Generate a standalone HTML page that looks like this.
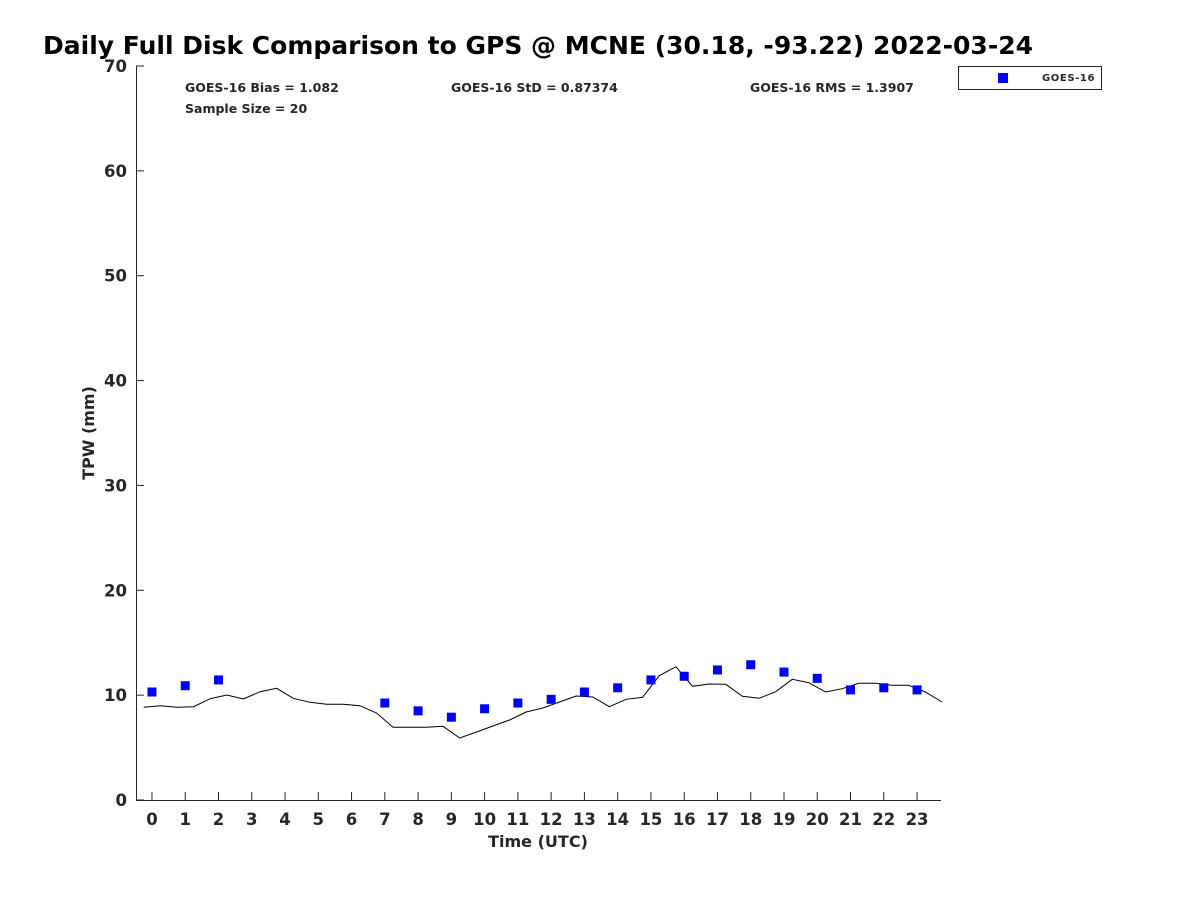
<!DOCTYPE html>
<html><head><meta charset="utf-8"><style>
body{margin:0;background:#fff;}
svg text{font-family:"DejaVu Sans","Liberation Sans",sans-serif;font-weight:bold;fill:#262626;}
</style></head><body>
<svg id="chart" width="1200" height="900" xmlns="http://www.w3.org/2000/svg">
<rect width="1200" height="900" fill="#fff"/>
<text x="43" y="54" font-size="25" textLength="990" lengthAdjust="spacingAndGlyphs" style="fill:#000">Daily Full Disk Comparison to GPS @ MCNE (30.18, -93.22) 2022-03-24</text>
<g id="axes"></g>
<g id="marks"></g>
<text x="185" y="92" font-size="12.5">GOES-16 Bias = 1.082</text>
<text x="185" y="113" font-size="12.5">Sample Size = 20</text>
<text x="451" y="92" font-size="12.5">GOES-16 StD = 0.87374</text>
<text x="750" y="92" font-size="12.5">GOES-16 RMS = 1.3907</text>
<g>
<rect x="958.5" y="66.5" width="143" height="23" fill="#fff" stroke="#262626" stroke-width="1"/>
<rect x="998" y="73" width="10" height="10" fill="#0000ff"/>
<text x="1042" y="81" font-size="10" letter-spacing="0.6">GOES-16</text>
</g>
<text x="538" y="847" font-size="16" text-anchor="middle">Time (UTC)</text>
<text transform="translate(94,433) rotate(-90)" font-size="16" text-anchor="middle">TPW (mm)</text>
</svg>
<script>
const gpsTimes = [];
for (let i = 0; i < 49; i++) gpsTimes.push(-0.25 + 0.5 * i);
const gpsValues = [8.84,8.99,8.84,8.90,9.66,10.01,9.63,10.33,10.65,9.70,9.32,9.13,9.13,8.99,8.30,6.93,6.93,6.93,7.03,5.91,6.48,7.06,7.63,8.39,8.77,9.35,9.92,9.82,8.90,9.60,9.79,11.85,12.71,10.84,11.06,11.03,9.89,9.70,10.33,11.51,11.19,10.30,10.61,11.13,11.13,10.94,10.94,10.30,9.35];
const goesHours = [0,1,2,7,8,9,10,11,12,13,14,15,16,17,18,19,20,21,22,23];
const goesValues = [10.3,10.9,11.45,9.25,8.5,7.9,8.7,9.25,9.6,10.3,10.7,11.45,11.8,12.4,12.9,12.2,11.6,10.5,10.7,10.5];
const xTicks = [0,1,2,3,4,5,6,7,8,9,10,11,12,13,14,15,16,17,18,19,20,21,22,23];
const yTicks = [0,10,20,30,40,50,60,70];

const NS = "http://www.w3.org/2000/svg";
const X0 = 136, X1 = 941, Y0 = 800, Y1 = 66;
const xMin = -0.48, xMax = 23.72, yMin = 0, yMax = 70;
const sx = v => X0 + (v - xMin) / (xMax - xMin) * (X1 - X0);
const sy = v => Y0 - (v - yMin) / (yMax - yMin) * (Y0 - Y1);
function mk(tag, attrs, parent) {
  const e = document.createElementNS(NS, tag);
  for (const k in attrs) e.setAttribute(k, attrs[k]);
  parent.appendChild(e);
  return e;
}
const axes = document.getElementById('axes');
const marks = document.getElementById('marks');
let e = mk('path', {d:`M${X0+0.5},${Y1} V${Y0+0.5} H${X1}`, fill:'none', stroke:'#262626', 'stroke-width':1}, axes);


xTicks.forEach(t => {
  const x = sx(t);
  const l = mk('line', {x1:x, x2:x, y1:Y0, y2:Y0-8, stroke:'#262626'}, axes);
  
  
  const tx = mk('text', {x:x, y:Y0+25, 'font-size':16.5, 'text-anchor':'middle'}, axes);
  tx.textContent = t;
  
  
});
yTicks.forEach(t => {
  const y = sy(t);
  const l = mk('line', {x1:X0, x2:X0+8, y1:y, y2:y, stroke:'#262626'}, axes);
  
  
  const tx = mk('text', {x:X0-9, y:y+6, 'font-size':16.5, 'text-anchor':'end'}, axes);
  tx.textContent = t;
  
  
});
const pts = gpsTimes.map((t, i) => sx(t).toFixed(1) + ',' + sy(gpsValues[i]).toFixed(1)).join(' ');
const pl = mk('polyline', {points:pts, fill:'none', stroke:'#000', 'stroke-width':1}, marks);


goesHours.forEach((h, i) => {
  const r = mk('rect', {x:sx(h)-4.5, y:sy(goesValues[i])-4.5, width:9, height:9, fill:'#0000ff'}, marks);
  
  
});
</script>
</body></html>
